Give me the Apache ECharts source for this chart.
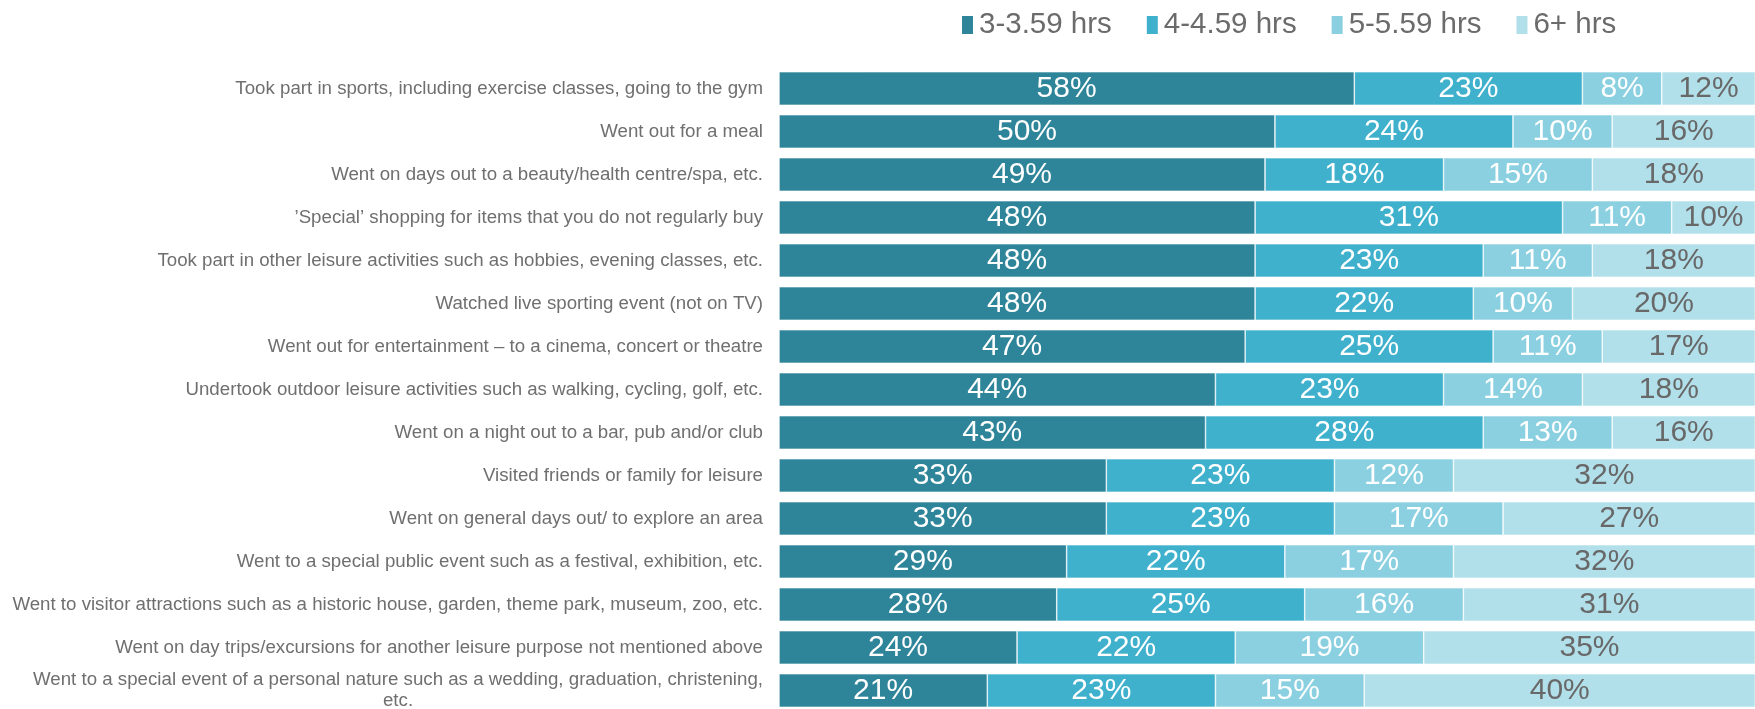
<!DOCTYPE html>
<html>
<head>
<meta charset="utf-8">
<script src="https://cdn.jsdelivr.net/npm/echarts@6/dist/echarts.min.js"></script>
<style>
  html, body { margin: 0; padding: 0; background: #fff; }
  #chart { width: 1755px; height: 709px; }
</style>
</head>
<body>
<div id="chart"></div>
<script>
// categories, top to bottom
var categories = [
  'Took part in sports, including exercise classes, going to the gym',
  'Went out for a meal',
  'Went on days out to a beauty/health centre/spa, etc.',
  '\u2019Special\u2019 shopping for items that you do not regularly buy',
  'Took part in other leisure activities such as hobbies, evening classes, etc.',
  'Watched live sporting event (not on TV)',
  'Went out for entertainment \u2013 to a cinema, concert or theatre',
  'Undertook outdoor leisure activities such as walking, cycling, golf, etc.',
  'Went on a night out to a bar, pub and/or club',
  'Visited friends or family for leisure',
  'Went on general days out/ to explore an area',
  'Went to a special public event such as a festival, exhibition, etc.',
  'Went to visitor attractions such as a historic house, garden, theme park, museum, zoo, etc.',
  'Went on day trips/excursions for another leisure purpose not mentioned above',
  'Went to a special event of a personal nature such as a wedding, graduation, christening,\netc.'
];

var seriesNames = ['3-3.59 hrs', '4-4.59 hrs', '5-5.59 hrs', '6+ hrs'];
var hrs3 = [58, 50, 49, 48, 48, 48, 47, 44, 43, 33, 33, 29, 28, 24, 21];
var hrs4 = [23, 24, 18, 31, 23, 22, 25, 23, 28, 23, 23, 22, 25, 22, 23];
var hrs5 = [8, 10, 15, 11, 11, 10, 11, 14, 13, 12, 17, 17, 16, 19, 15];
var hrs6 = [12, 16, 18, 10, 18, 20, 17, 18, 16, 32, 27, 32, 31, 35, 40];

var colors = ['#2e8499', '#40b1cd', '#8bd0e0', '#b1dfea'];
var labelColors = ['#ffffff', '#ffffff', '#ffffff', '#686868'];
var fontName = '"Liberation Sans", Arial, sans-serif';

var myChart = echarts.init(document.getElementById('chart'));

var allData = [hrs3, hrs4, hrs5, hrs6];
var series = allData.map(function (d, i) {
  return {
    name: seriesNames[i],
    type: 'bar',
    stack: 'total',
    barWidth: '78%',
    data: d,
    itemStyle: { color: colors[i], borderColor: '#ffffff', borderWidth: 0.6 },
    label: {
      show: true,
      position: 'inside',
      formatter: '{c}%',
      color: labelColors[i],
      fontSize: 30,
      fontFamily: fontName
    },
    emphasis: { disabled: true }
  };
});

// the right end of the chart is cut off in the original, so the axis stops short of 100
var option = {
  animation: false,
  color: colors,
  legend: {
    data: seriesNames,
    top: 5,
    left: 955,
    itemWidth: 13,
    itemHeight: 20,
    itemGap: 33,
    icon: 'rect',
    textStyle: { color: '#6b6b6b', fontSize: 29.5, fontFamily: fontName }
  },
  grid: { left: 779, right: 0, top: 67, bottom: -3, containLabel: false, outerBoundsMode: 'none' },
  xAxis: {
    type: 'value',
    min: 0,
    max: 98.4,
    show: false
  },
  yAxis: {
    type: 'category',
    inverse: true,
    data: categories,
    axisLine: { show: false },
    axisTick: { show: false },
    axisLabel: {
      margin: 16,
      color: '#6f6f6f',
      fontSize: 18.7,
      fontFamily: fontName,
      lineHeight: 21,
      formatter: function (v) {
        if (v.indexOf('\n') >= 0) {
          return v.split('\n').map(function (s) { return '{c|' + s + '}'; }).join('\n');
        }
        return v;
      },
      rich: {
        c: {
          align: 'center',
          color: '#6f6f6f',
          fontSize: 18.7,
          lineHeight: 21,
          fontFamily: fontName
        }
      }
    }
  },
  series: series
};

myChart.setOption(option);
</script>
</body>
</html>
